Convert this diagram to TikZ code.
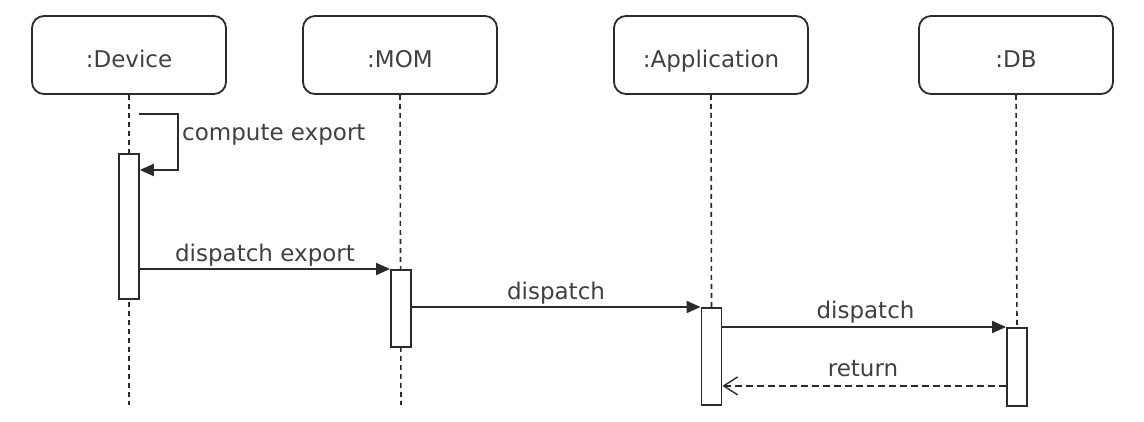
\documentclass[tikz,border=0pt]{standalone}
\usepackage{fontspec}
\setmainfont{DejaVu Sans}
\usetikzlibrary{arrows.meta,backgrounds,calc}
\definecolor{lc}{HTML}{2B2B2B}
\definecolor{tc}{HTML}{404040}
\begin{document}
\begin{tikzpicture}[x=1pt,y=-1pt,
  every node/.style={font=\fontsize{23}{27}\selectfont, text=tc},
  obj/.style={draw=lc, line width=1.8pt, rounded corners=12pt, minimum width=194pt, minimum height=78pt, inner sep=0pt, text height=25pt, text depth=0pt},
  act/.style={draw=lc, fill=white, line width=1.8pt, minimum width=20pt, inner sep=0pt, anchor=north},
  life/.style={draw=lc, line width=1.6pt, dash pattern=on 5pt off 4pt},
  msg/.style={draw=lc, line width=1.8pt, -{Triangle[length=14pt,width=12pt]}},
  ret/.style={draw=lc, line width=1.5pt, dash pattern=on 7pt off 4pt, -{Straight Barb[length=14pt,width=18pt,line width=1.4pt]}},
  lbl/.style={inner sep=0pt, anchor=base}
]
\useasboundingbox (0,0) rectangle (1144,421);
% objects
\node[obj] (dev) at (129,55) {:Device};
\node[obj] (mom) at (400,55) {:MOM};
\node[obj] (app) at (711,55) {:Application};
\node[obj] (db)  at (1016,55) {:DB};
% activation bars
\node[act, minimum height=145pt] (adev) at (129,153) {};
\node[act, minimum height=77pt] (amom) at (401,269) {};
\node[act, minimum height=97pt] (aapp) at (711.5,307) {};
\node[act, minimum height=78pt] (adb) at (1017,327) {};
% lifeline ends
\coordinate (devend) at (129,405);
\coordinate (momend) at (401,405);
\begin{scope}[on background layer]
\draw[life] (dev.south) -- (devend);
\draw[life] (mom.south) -- (momend);
\draw[life] (app.south) -- (aapp.north);
\draw[life] (db.south) -- (adb.north);
\end{scope}
% self call
\coordinate (s1) at (139,114);
\coordinate (s2) at (139.8,170);
\draw[msg] (s1) -- ++(39,0) |- (s2);
\node[inner sep=0pt, anchor=base west] (lself) at (182,140) {compute export};
% messages
\draw[msg] (adev.east |- amom.north) -- (amom.north west);
\node[lbl] (l1) at (265,261) {dispatch export};
\draw[msg] (amom.east |- aapp.north) -- (aapp.north west);
\node[lbl] (l2) at (556,299) {dispatch};
\draw[msg] (aapp.east |- adb.north) -- (adb.north west);
\node[lbl] (l3) at (865.5,318) {dispatch};
\coordinate (r1) at ($(adb.west)+(0,19)$);
\draw[ret] (r1) -- (aapp.east |- r1);
\node[lbl] (l4) at (863,376) {return};
\end{tikzpicture}
\end{document}
